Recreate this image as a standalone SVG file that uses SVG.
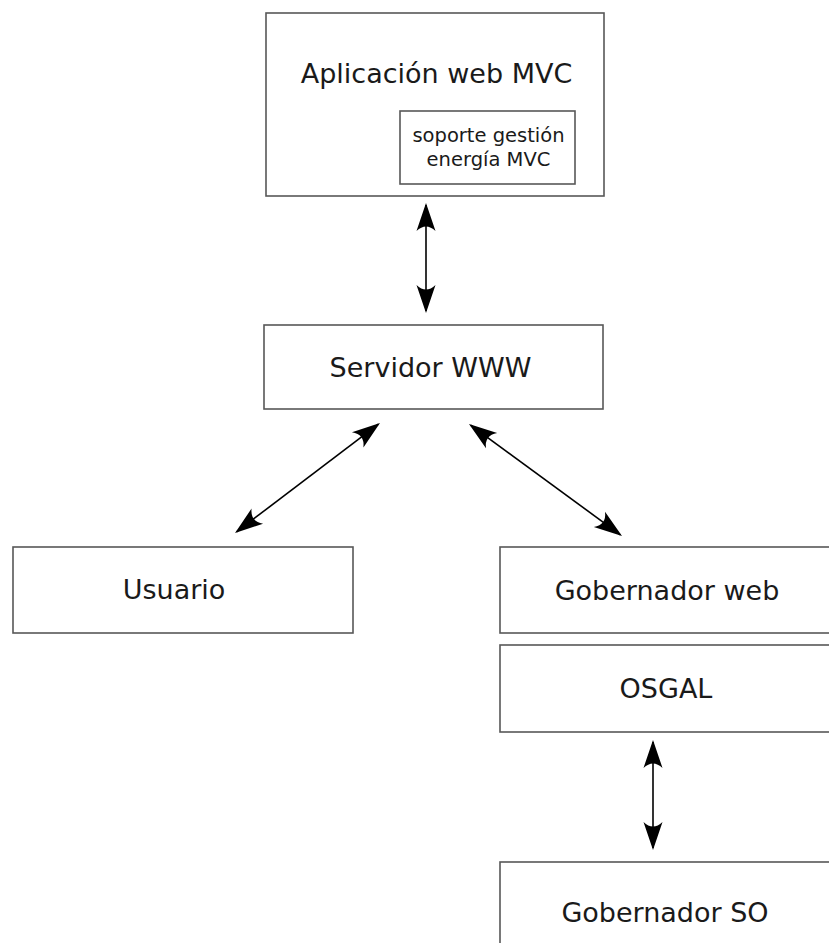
<svg xmlns="http://www.w3.org/2000/svg" width="829" height="943" viewBox="0 0 829 943">
  <style>
    .box { fill: #ffffff; stroke: #585858; stroke-width: 1.6; }
    .lbl { font-family: "DejaVu Sans", sans-serif; font-size: 27px; fill: #1a1a1a; text-anchor: middle; }
    .small { font-size: 19.5px; }
    .link { fill: none; stroke: #000000; stroke-width: 1.6; marker-start: url(#head); marker-end: url(#head); }
  </style>
  <defs>
    <marker id="head" viewBox="-30 -11 34 22" refX="0" refY="0" markerWidth="34" markerHeight="22" markerUnits="userSpaceOnUse" orient="auto-start-reverse">
      <path d="M2,0 L-26,-9.5 Q-17,0 -26,9.5 Z" fill="#000000"/>
    </marker>
  </defs>
  <rect width="829" height="943" fill="#ffffff"/>

  <g id="app-mvc">
    <rect class="box" x="266" y="13" width="338" height="183"/>
    <text class="lbl" x="436.5" y="83">Aplicación web MVC</text>
  </g>
  <g id="soporte-energia">
    <rect class="box" x="400" y="111" width="175" height="73"/>
    <text class="lbl small" x="488.5" y="142">soporte gestión</text>
    <text class="lbl small" x="488.5" y="166">energía MVC</text>
  </g>
  <g id="servidor-www">
    <rect class="box" x="264" y="325" width="339" height="84"/>
    <text class="lbl" x="430.5" y="377">Servidor WWW</text>
  </g>
  <g id="usuario">
    <rect class="box" x="13" y="547" width="340" height="86"/>
    <text class="lbl" x="174" y="599">Usuario</text>
  </g>
  <g id="gobernador-web">
    <rect class="box" x="500" y="547" width="335" height="86"/>
    <text class="lbl" x="667" y="600">Gobernador web</text>
  </g>
  <g id="osgal">
    <rect class="box" x="500" y="645" width="335" height="87"/>
    <text class="lbl" x="666" y="698">OSGAL</text>
  </g>
  <g id="gobernador-so">
    <rect class="box" x="500" y="862" width="335" height="90"/>
    <text class="lbl" x="665" y="922">Gobernador SO</text>
  </g>

  <g id="connectors">
    <line class="link" x1="426" y1="205" x2="426" y2="311"/>
    <line class="link" x1="378.4" y1="424.2" x2="236.6" y2="531.8"/>
    <line class="link" x1="470.6" y1="425.2" x2="620.4" y2="534.8"/>
    <line class="link" x1="653" y1="742" x2="653" y2="848"/>
  </g>
</svg>
